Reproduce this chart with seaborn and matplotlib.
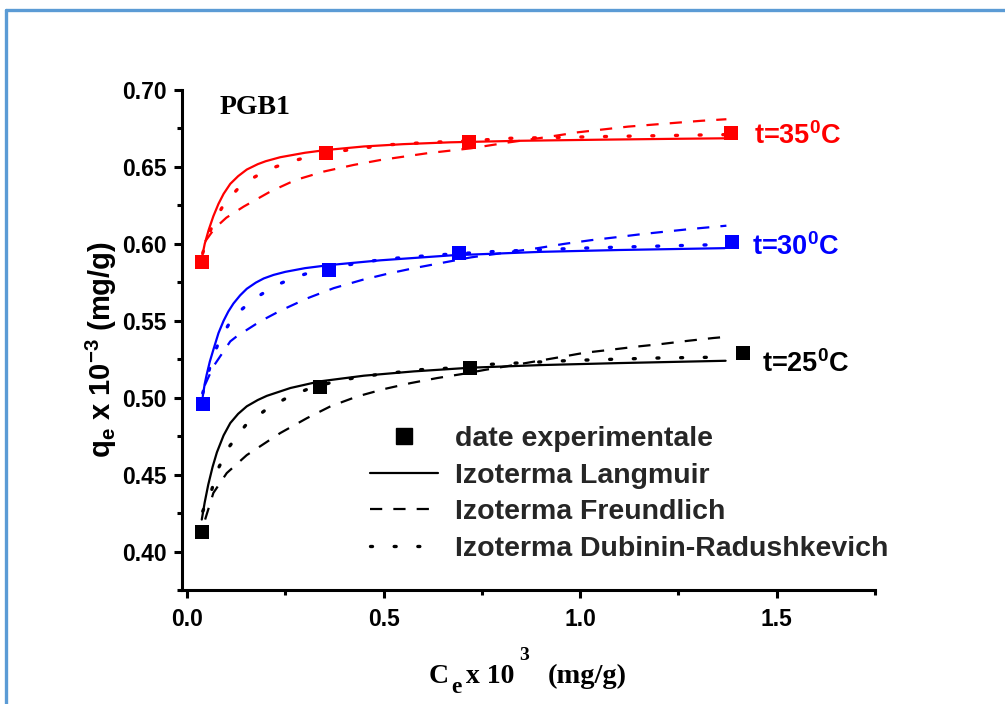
import matplotlib
matplotlib.use("Agg")
import matplotlib.pyplot as plt
from matplotlib.lines import Line2D
from matplotlib.ticker import MultipleLocator, FormatStrFormatter
import seaborn as sns

# ---------------- data ----------------
ce_35 = [0.0375, 0.354, 0.718, 1.383]
qe_35 = [0.588, 0.659, 0.6664, 0.6719]
ce_30 = [0.040, 0.362, 0.692, 1.385]
qe_30 = [0.496, 0.5831, 0.594, 0.6009]
ce_25 = [0.0375, 0.3375, 0.720, 1.415]
qe_25 = [0.4126, 0.507, 0.5193, 0.5288]

lang35_x = [0.037, 0.045, 0.055, 0.067, 0.080, 0.093, 0.110, 0.130, 0.152, 0.180, 0.200, 0.237, 0.300, 0.354, 0.450, 0.550, 0.670, 0.850, 1.050, 1.250, 1.370]
lang35_y = [0.590, 0.600, 0.609, 0.618, 0.626, 0.6325, 0.639, 0.644, 0.6483, 0.6518, 0.6537, 0.6563, 0.6592, 0.661, 0.6633, 0.6648, 0.666, 0.667, 0.6677, 0.6683, 0.6686]
dr35_x = [0.040, 0.055, 0.071, 0.090, 0.105, 0.130, 0.159, 0.190, 0.213, 0.271, 0.331, 0.382, 0.436, 0.520, 0.620, 0.720, 0.820, 0.950, 1.050, 1.200, 1.320, 1.370]
dr35_y = [0.594, 0.606, 0.6156, 0.624, 0.629, 0.636, 0.6416, 0.646, 0.649, 0.654, 0.658, 0.660, 0.662, 0.6645, 0.666, 0.667, 0.6686, 0.6692, 0.6697, 0.6703, 0.6708, 0.671]
fr35_x = [0.046, 0.070, 0.100, 0.144, 0.212, 0.276, 0.348, 0.424, 0.492, 0.611, 0.722, 0.820, 0.918, 0.994, 1.122, 1.249, 1.309, 1.372]
fr35_y = [0.6015, 0.610, 0.617, 0.6242, 0.634, 0.6415, 0.647, 0.6513, 0.6545, 0.6589, 0.6621, 0.666, 0.6695, 0.6725, 0.6762, 0.6788, 0.680, 0.681]

lang30_x = [0.040, 0.045, 0.050, 0.058, 0.067, 0.080, 0.093, 0.105, 0.118, 0.135, 0.152, 0.175, 0.195, 0.220, 0.250, 0.300, 0.362, 0.492, 0.671, 0.900, 1.100, 1.368]
lang30_y = [0.5008, 0.509, 0.515, 0.5235, 0.5312, 0.542, 0.5500, 0.5560, 0.5612, 0.5665, 0.5708, 0.5748, 0.5775, 0.5798, 0.5818, 0.5842, 0.5862, 0.5893, 0.5925, 0.5948, 0.596, 0.5972]
dr30_x = [0.040, 0.050, 0.063, 0.084, 0.118, 0.173, 0.229, 0.281, 0.335, 0.395, 0.446, 0.501, 0.560, 0.650, 0.781, 1.003, 1.224, 1.370]
dr30_y = [0.503, 0.5117, 0.5247, 0.5381, 0.5528, 0.5647, 0.5734, 0.5788, 0.5831, 0.5857, 0.5879, 0.590, 0.5913, 0.593, 0.595, 0.5972, 0.5987, 0.5996]
fr30_x = [0.045, 0.067, 0.110, 0.127, 0.186, 0.237, 0.305, 0.373, 0.446, 0.509, 0.577, 0.654, 0.722, 0.892, 0.960, 1.028, 1.092, 1.156, 1.219, 1.283, 1.347, 1.372]
fr30_y = [0.508, 0.5203, 0.5366, 0.540, 0.5496, 0.5565, 0.5645, 0.5712, 0.5766, 0.5805, 0.5842, 0.5879, 0.5912, 0.5972, 0.6000, 0.6024, 0.6043, 0.6063, 0.608, 0.6097, 0.6112, 0.6118]

lang25_x = [0.0375, 0.045, 0.054, 0.065, 0.076, 0.093, 0.110, 0.130, 0.152, 0.180, 0.203, 0.263, 0.3375, 0.450, 0.577, 0.722, 0.900, 1.100, 1.370]
lang25_y = [0.4208, 0.432, 0.4435, 0.455, 0.4645, 0.4755, 0.4835, 0.4895, 0.4944, 0.4985, 0.5012, 0.5063, 0.5106, 0.5143, 0.5171, 0.5195, 0.5212, 0.5225, 0.524]
dr25_x = [0.040, 0.063, 0.080, 0.108, 0.148, 0.203, 0.258, 0.314, 0.369, 0.424, 0.484, 0.535, 0.594, 0.654, 0.756, 0.977, 1.198, 1.370]
dr25_y = [0.4262, 0.4403, 0.4543, 0.4684, 0.4818, 0.4927, 0.5005, 0.5063, 0.510, 0.5128, 0.515, 0.5165, 0.5182, 0.519, 0.5215, 0.5242, 0.5258, 0.5264]
fr25_x = [0.046, 0.067, 0.101, 0.152, 0.186, 0.237, 0.305, 0.365, 0.433, 0.501, 0.569, 0.637, 0.705, 0.756, 0.850, 0.952, 1.011, 1.079, 1.147, 1.207, 1.275, 1.339, 1.370]
fr25_y = [0.4208, 0.4381, 0.451, 0.4627, 0.4684, 0.477, 0.4867, 0.4944, 0.5008, 0.5056, 0.5095, 0.5128, 0.5156, 0.518, 0.522, 0.5265, 0.5292, 0.5312, 0.5333, 0.5349, 0.537, 0.5388, 0.5395]

temp_labels = ["t=35$^0$C", "t=30$^0$C", "t=25$^0$C"]
legend_labels = ["date experimentale", "Izoterma Langmuir", "Izoterma Freundlich",
                 "Izoterma Dubinin-Radushkevich"]
sample_label = "PGB1"
x_ticks = [0.0, 0.5, 1.0, 1.5]
y_ticks = [0.40, 0.45, 0.50, 0.55, 0.60, 0.65, 0.70]

# ---------------- style ----------------
sns.set_theme(style="ticks")
plt.rcParams["font.family"] = ["Liberation Sans", "DejaVu Sans"]
plt.rcParams["font.weight"] = "bold"
plt.rcParams["mathtext.fontset"] = "custom"
plt.rcParams["mathtext.rm"] = "Liberation Sans:bold"
plt.rcParams["mathtext.bf"] = "Liberation Sans:bold"
plt.rcParams["mathtext.it"] = "Liberation Sans:bold"
plt.rcParams["mathtext.default"] = "bf"

W, H = 1005, 704
fig = plt.figure(figsize=(W / 100, H / 100), dpi=100, facecolor="white")
ax_l, ax_r, ax_t, ax_b = 182, 875, 90, 590
ax = fig.add_axes([ax_l / W, 1 - ax_b / H, (ax_r - ax_l) / W, (ax_b - ax_t) / H])
ax.set_facecolor("white")

solid = "-"
dashed = (0, (5.5, 5))
dotted = (0, (0.6, 6.5))

series = [
    ("red", ce_35, qe_35, lang35_x, lang35_y, fr35_x, fr35_y, dr35_x, dr35_y),
    ("blue", ce_30, qe_30, lang30_x, lang30_y, fr30_x, fr30_y, dr30_x, dr30_y),
    ("black", ce_25, qe_25, lang25_x, lang25_y, fr25_x, fr25_y, dr25_x, dr25_y),
]

for col, cx, cy, lx, ly, fx, fy, dx, dy in series:
    sns.lineplot(x=lx, y=ly, color=col, linestyle=solid, linewidth=1.6,
                 estimator=None, sort=False, ax=ax)
    sns.lineplot(x=fx, y=fy, color=col, linestyle=dashed, linewidth=1.6,
                 estimator=None, sort=False, ax=ax)
    sns.lineplot(x=dx, y=dy, color=col, linestyle=dotted, linewidth=2.4,
                 dash_capstyle="round", estimator=None, sort=False, ax=ax)
    sns.scatterplot(x=cx, y=cy, color=col, marker="s", s=105, linewidth=0,
                    ax=ax, zorder=5)

ax.set_xlim(-0.0128, 1.75)
ax.set_ylim(0.375, 0.70)
ax.set_xticks(x_ticks)
ax.set_yticks(y_ticks)
ax.xaxis.set_minor_locator(MultipleLocator(0.25))
ax.yaxis.set_minor_locator(MultipleLocator(0.025))
ax.xaxis.set_major_formatter(FormatStrFormatter("%.1f"))
ax.yaxis.set_major_formatter(FormatStrFormatter("%.2f"))
for s in ["top", "right"]:
    ax.spines[s].set_visible(False)
for s in ["left", "bottom"]:
    ax.spines[s].set_linewidth(2.2)
    ax.spines[s].set_color("black")
ax.tick_params(axis="both", which="major", direction="out", length=6, width=2.2,
               labelsize=16.5, pad=5, color="black", labelcolor="black")
ax.tick_params(axis="x", which="major", pad=7)
ax.tick_params(axis="both", which="minor", direction="out", length=3.5, width=2.2,
               color="black")
for lab in ax.get_xticklabels() + ax.get_yticklabels():
    lab.set_fontweight("bold")
ax.set_xlabel("")
ax.set_ylabel("")

# temperature labels
ax.text((754 - ax_l) / (ax_r - ax_l), (ax_b - 144) / (ax_b - ax_t), temp_labels[0],
        transform=ax.transAxes, color="red", fontsize=19.5, fontweight="bold",
        va="baseline", ha="left")
ax.text((752 - ax_l) / (ax_r - ax_l), (ax_b - 255) / (ax_b - ax_t), temp_labels[1],
        transform=ax.transAxes, color="blue", fontsize=19.5, fontweight="bold",
        va="baseline", ha="left")
ax.text((762 - ax_l) / (ax_r - ax_l), (ax_b - 372) / (ax_b - ax_t), temp_labels[2],
        transform=ax.transAxes, color="black", fontsize=19.5, fontweight="bold",
        va="baseline", ha="left")

ax.text((220 - ax_l) / (ax_r - ax_l), (ax_b - 108) / (ax_b - ax_t), sample_label,
        transform=ax.transAxes, fontsize=20, fontweight="bold",
        family="Liberation Serif", va="center", ha="left", color="black")

# legend
handles = [
    Line2D([], [], marker="s", color="black", linestyle="none", markersize=11),
    Line2D([], [], color="black", linestyle=solid, linewidth=1.6),
    Line2D([], [], color="black", linestyle=dashed, linewidth=1.6),
    Line2D([], [], color="black", linestyle=dotted, linewidth=2.4, dash_capstyle="round"),
]
leg = ax.legend(handles, legend_labels, loc="upper left",
                bbox_to_anchor=(370 / W, 1 - 426 / H), bbox_transform=fig.transFigure,
                frameon=False, borderpad=0, borderaxespad=0, handlelength=2.39,
                handletextpad=0.6, labelspacing=0.37,
                prop={"family": "Liberation Sans", "weight": "bold", "size": 20.5})

# axis labels
fig.text(101 / W, 1 - 350 / H, "q$_e$ x 10$^{-3}$ (mg/g)", rotation=90,
         fontsize=21, fontweight="bold", ha="center", va="center", color="black")
serif = dict(family="Liberation Serif", weight="bold", color="black", ha="left",
             va="baseline")
fig.text(429 / W, 1 - 683 / H, "C", fontsize=20, **serif)
fig.text(451 / W, 1 - 693 / H, "e", fontsize=17, **serif)
fig.text(466 / W, 1 - 683 / H, "x 10", fontsize=20, **serif)
fig.text(519 / W, 1 - 660 / H, "3", fontsize=14, **serif)
fig.text(548 / W, 1 - 683 / H, "(mg/g)", fontsize=20.5, **serif)

# page border
border = "#5b9bd5"
fig.add_artist(Line2D([5.5 / W, 1.0], [1 - 9.5 / H, 1 - 9.5 / H], color=border,
                      linewidth=2.4, transform=fig.transFigure))
fig.add_artist(Line2D([5.5 / W, 5.5 / W], [0.0, 1 - 9.5 / H], color=border,
                      linewidth=2.4, transform=fig.transFigure))

fig.savefig("out.png", dpi=100, facecolor="white")
